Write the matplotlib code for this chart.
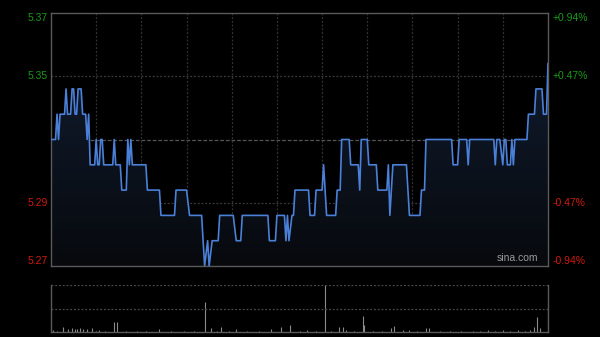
import matplotlib
matplotlib.use("Agg")
import matplotlib.pyplot as plt
import numpy as np

# intraday data (HK session, minute index 0..330), prev close 5.32
prev_close = 5.32
minutes = [0, 3, 4, 5, 6, 9, 10, 11, 13, 14, 15, 16, 17, 18, 20, 21, 23, 24, 25, 26,
           29, 30, 31, 32, 33, 34, 35, 41, 42, 43, 46, 47, 50, 51, 52, 53, 54, 63, 64, 72,
           73, 82, 83, 90, 92, 100, 102, 104, 105, 107, 111, 112, 121, 123, 126, 127, 144, 145, 149, 150,
           155, 156, 157, 158, 160, 161, 162, 171, 172, 175, 176, 180, 181, 183, 189, 190, 192, 193, 198, 199,
           204, 205, 206, 210, 211, 216, 217, 223, 224, 225, 227, 236, 238, 245, 246, 248, 249, 266, 267, 270,
           271, 276, 277, 278, 294, 295, 296, 298, 300, 301, 302, 303, 305, 306, 307, 308, 316, 317, 321, 322,
           326, 327, 329, 330]
prices = [5.32, 5.32, 5.33, 5.32, 5.33, 5.33, 5.34, 5.33, 5.33, 5.34, 5.34, 5.33, 5.33, 5.34, 5.34, 5.33, 5.33, 5.32, 5.33, 5.31,
          5.31, 5.32, 5.31, 5.31, 5.32, 5.32, 5.31, 5.31, 5.32, 5.31, 5.31, 5.30, 5.30, 5.32, 5.31, 5.32, 5.31, 5.31, 5.30, 5.30,
          5.29, 5.29, 5.30, 5.30, 5.29, 5.29, 5.27, 5.28, 5.27, 5.28, 5.28, 5.29, 5.29, 5.28, 5.28, 5.29, 5.29, 5.28, 5.28, 5.29,
          5.29, 5.28, 5.29, 5.28, 5.29, 5.29, 5.30, 5.30, 5.29, 5.29, 5.30, 5.30, 5.31, 5.29, 5.29, 5.30, 5.30, 5.32, 5.32, 5.31,
          5.31, 5.30, 5.32, 5.32, 5.31, 5.31, 5.30, 5.30, 5.31, 5.29, 5.31, 5.31, 5.29, 5.29, 5.30, 5.30, 5.32, 5.32, 5.31, 5.31,
          5.32, 5.32, 5.31, 5.32, 5.32, 5.31, 5.32, 5.32, 5.31, 5.32, 5.32, 5.31, 5.31, 5.32, 5.31, 5.32, 5.32, 5.33, 5.33, 5.34,
          5.34, 5.33, 5.33, 5.35]

vol_minutes = [1, 4, 8, 11, 14, 16, 17, 19, 21, 24, 27, 30, 32, 36, 42, 44, 50, 57, 63, 72,
               80, 88, 95, 102, 106, 110, 113, 118, 123, 130, 138, 146, 153, 159, 165, 170, 176, 182, 186, 191,
               194, 196, 201, 207, 208, 214, 220, 226, 228, 234, 238, 243, 249, 251, 258, 265, 272, 280, 285, 290,
               295, 300, 305, 310, 315, 318, 321, 323, 325, 330]
volumes = [4, 2, 11, 6, 8, 6, 6, 8, 6, 6, 8, 3, 4, 2, 21, 21, 3, 2, 3, 6,
           2, 3, 2, 63, 8, 3, 10, 2, 6, 2, 3, 7, 11, 15, 2, 4, 3, 100, 3, 11,
           10, 4, 2, 34, 15, 3, 2, 8, 13, 4, 4, 2, 8, 8, 2, 3, 2, 3, 2, 4,
           3, 4, 3, 4, 3, 5, 10, 32, 8, 60]

price_ticks = [5.37, 5.345, 5.295, 5.27]
price_labels = ["5.37", "5.35", "5.29", "5.27"]
pct_labels = ["+0.94%", "+0.47%", "-0.47%", "-0.94%"]
label_colors = ["#1a9a1a", "#1a9a1a", "#d01a10", "#d01a10"]

plt.rcParams['font.family'] = ['Liberation Sans', 'DejaVu Sans']

fig = plt.figure(figsize=(6, 3.37), dpi=100, facecolor="black")
ax = fig.add_axes([51/600, 1-266/337, 497/600, 253/337], facecolor="black")
axv = fig.add_axes([51/600, 1-332/337, 497/600, 47/337], facecolor="black")

x0, x1 = 0, 330
y0, y1 = 5.27, 5.37

# grid
for m in range(30, 330, 30):
    ax.axvline(m, color="#333333", lw=0.9, ls=(0, (1.5, 1.5)), zorder=1)
for p in [5.345, 5.295]:
    ax.axhline(p, color="#3c3c3c", lw=0.9, ls=(0, (1.5, 1.5)), zorder=1)
ax.axhline(prev_close, color="#555555", lw=0.9, ls=(0, (3, 1.5)), zorder=1)

# gradient fill under the line
poly = ax.fill_between(minutes, prices, y0, color="none", lw=0)
grad = np.linspace(0, 1, 256).reshape(-1, 1)
cmap = matplotlib.colors.LinearSegmentedColormap.from_list("g", ["#07090d", "#132036"])
img = ax.imshow(grad, extent=[x0, x1, y0, y1], origin="lower", aspect="auto", cmap=cmap, zorder=2)
img.set_clip_path(poly.get_paths()[0], transform=ax.transData)

ax.plot(minutes, prices, color="#4a80d8", lw=1.2, zorder=3)

ax.set_xlim(x0, x1)
ax.set_ylim(y0, y1)
ax.set_xticks([])
ax.set_yticks([])
for s in ax.spines.values():
    s.set_color("#5a5a5a")
    s.set_linewidth(1.0)

# price and percent labels
for p, lab, pct, c in zip(price_ticks, price_labels, pct_labels, label_colors):
    va = "center"
    if p == y1:
        va = "top"
    elif p == y0:
        va = "bottom"
    ax.text(-0.007, (p - y0) / (y1 - y0), lab, transform=ax.transAxes, ha="right", va=va,
            color=c, fontsize=7.5)
    ax.text(1.01, (p - y0) / (y1 - y0), pct, transform=ax.transAxes, ha="left", va=va,
            color=c, fontsize=7.5)

ax.text(0.98, 0.01, "sina.com", transform=ax.transAxes, ha="right", va="bottom",
        color="#9a9a9a", fontsize=7.5, zorder=5)

# volume panel
axv.vlines(vol_minutes, 0, volumes, color="#8a8a8a", lw=0.8)
axv.axhline(100, color="#4a4a4a", lw=0.9, ls=(0, (1.5, 1.5)))
axv.axhline(50, color="#4a4a4a", lw=0.9, ls=(0, (1.5, 1.5)))
axv.set_xlim(x0, x1)
axv.set_ylim(0, 100)
axv.set_xticks([])
axv.set_yticks([])
axv.spines["top"].set_visible(False)
for k in ["left", "right", "bottom"]:
    axv.spines[k].set_color("#5a5a5a")
    axv.spines[k].set_linewidth(1.0)

fig.savefig("out.png", dpi=100, facecolor="black")
